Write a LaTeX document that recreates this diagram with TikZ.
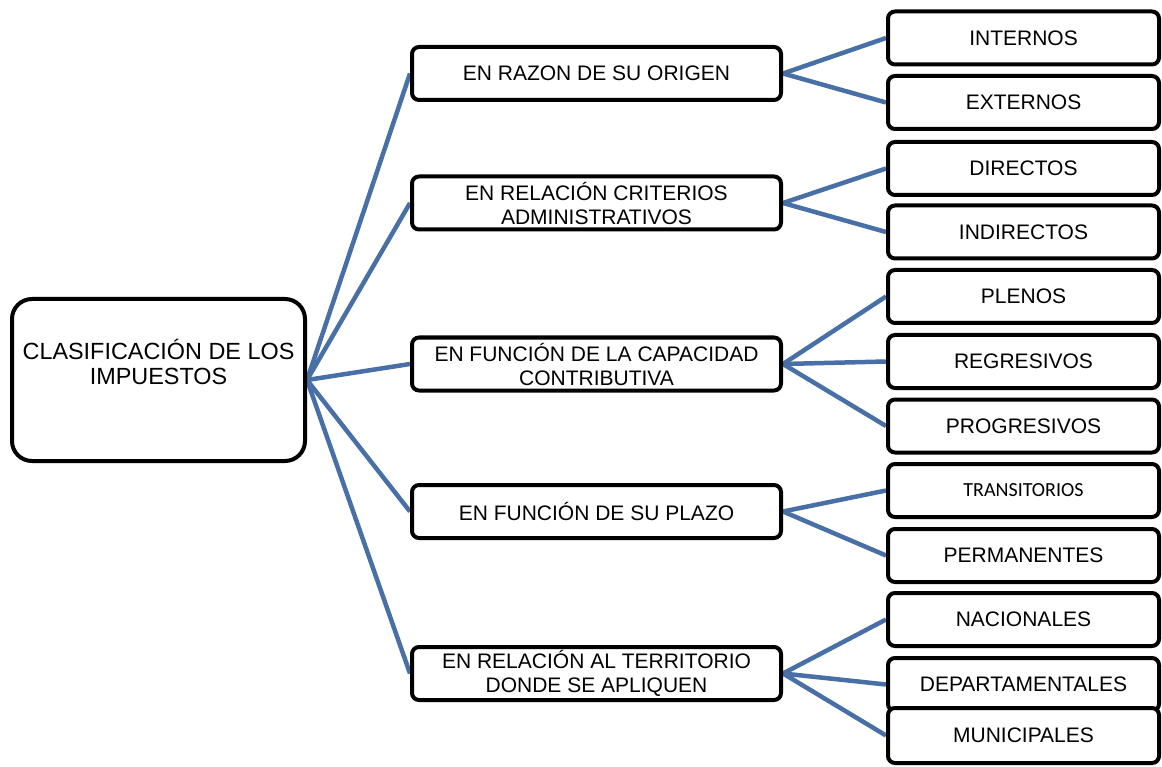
\documentclass[tikz,border=0pt]{standalone}
\usepackage{fontspec}
\setmainfont{Liberation Sans}
\newfontfamily\calfont{Carlito}
\usetikzlibrary{backgrounds}
\definecolor{linkblue}{RGB}{72,112,166}
\tikzset{
  rootbox/.style={draw=black, line width=4pt, fill=white, rounded corners=20pt,
    minimum width=293pt, minimum height=162pt, inner sep=0pt},
  roottext/.style={align=center, font=\fontsize{23.4}{25}\selectfont, inner sep=0pt},
  midbox/.style={draw=black, line width=4pt, fill=white, rounded corners=7pt,
    minimum width=369pt, minimum height=53pt, inner sep=0pt, align=center,
    font=\fontsize{21}{24}\selectfont},
  leafbox/.style={draw=black, line width=4pt, fill=white, rounded corners=7pt,
    minimum width=271pt, minimum height=53pt, inner sep=0pt, align=center,
    font=\fontsize{21}{24}\selectfont},
  link/.style={draw=linkblue, line width=4.5pt}
}
\begin{document}
\begin{tikzpicture}[x=1pt,y=-1pt]
\useasboundingbox (0,0) rectangle (1162,767);
% root
\node[rootbox] (root) at (158.5,380) {};
\node[roottext] (roottxt) at (158.5,361.5) {CLASIFICACIÓN DE LOS\\IMPUESTOS};
% middle
\node[midbox] (m1) at (596.5,73.5) {EN RAZON DE SU ORIGEN};
\node[midbox] (m2) at (596.5,203) {EN RELACIÓN CRITERIOS\\ADMINISTRATIVOS};
\node[midbox] (m3) at (596.5,364) {EN FUNCIÓN DE LA CAPACIDAD\\CONTRIBUTIVA};
\node[midbox] (m4) at (596.5,511.5) {EN FUNCIÓN DE SU PLAZO};
\node[midbox] (m5) at (596.5,673.5) {EN RELACIÓN AL TERRITORIO\\DONDE SE APLIQUEN};
% leaves
\node[leafbox] (l1) at (1023.5,38) {INTERNOS};
\node[leafbox] (l2) at (1023.5,102.5) {EXTERNOS};
\node[leafbox] (l3) at (1023.5,168.5) {DIRECTOS};
\node[leafbox] (l4) at (1023.5,232) {INDIRECTOS};
\node[leafbox] (l5) at (1023.5,296.5) {PLENOS};
\node[leafbox] (l6) at (1023.5,361.5) {REGRESIVOS};
\node[leafbox] (l7) at (1023.5,426) {PROGRESIVOS};
\node[leafbox, font=\calfont\fontsize{20}{24}\selectfont] (l8) at (1023.5,490.5) {TRANSITORIOS};
\node[leafbox] (l9) at (1023.5,555.5) {PERMANENTES};
\node[leafbox] (l10) at (1023.5,619.5) {NACIONALES};
\node[leafbox] (l11) at (1023.5,684.5) {DEPARTAMENTALES};
\node[leafbox, minimum height=55pt] (l12) at (1023.5,735.5) {MUNICIPALES};
\begin{pgfonlayer}{background}
\foreach \m in {m1,m2,m3,m4,m5} \draw[link] (root.east) -- (\m.west);
\draw[link] (m1.east) -- (l1.west);
\draw[link] (m1.east) -- (l2.west);
\draw[link] (m2.east) -- (l3.west);
\draw[link] (m2.east) -- (l4.west);
\draw[link] (m3.east) -- (l5.west);
\draw[link] (m3.east) -- (l6.west);
\draw[link] (m3.east) -- (l7.west);
\draw[link] (m4.east) -- (l8.west);
\draw[link] (m4.east) -- (l9.west);
\draw[link] (m5.east) -- (l10.west);
\draw[link] (m5.east) -- (l11.west);
\draw[link] (m5.east) -- (l12.west);
\end{pgfonlayer}
\end{tikzpicture}
\end{document}
